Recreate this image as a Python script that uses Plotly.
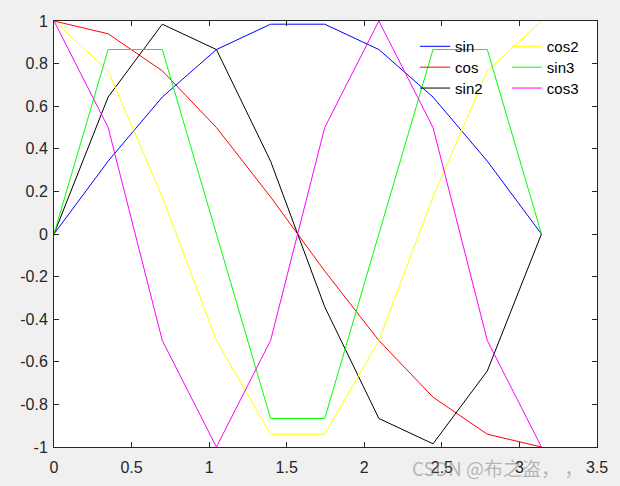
import plotly.graph_objects as go

# sample points (0 .. pi in 10 steps)
x = [0, 0.349, 0.698, 1.047, 1.396, 1.745, 2.094, 2.443, 2.793, 3.142]

sin_y = [0, 0.342, 0.643, 0.866, 0.985, 0.985, 0.866, 0.643, 0.342, 0]
cos_y = [1, 0.940, 0.766, 0.5, 0.174, -0.174, -0.5, -0.766, -0.940, -1]
sin2_y = [0, 0.643, 0.985, 0.866, 0.342, -0.342, -0.866, -0.985, -0.643, 0]
cos2_y = [1, 0.766, 0.174, -0.5, -0.940, -0.940, -0.5, 0.174, 0.766, 1]
sin3_y = [0, 0.866, 0.866, 0, -0.866, -0.866, 0, 0.866, 0.866, 0]
cos3_y = [1, 0.5, -0.5, -1, -0.5, 0.5, 1, 0.5, -0.5, -1]

x_ticks = [0, 0.5, 1, 1.5, 2, 2.5, 3, 3.5]
y_ticks = [-1, -0.8, -0.6, -0.4, -0.2, 0, 0.2, 0.4, 0.6, 0.8, 1]

series = [
    ('sin', sin_y, '#0000ff'),
    ('cos', cos_y, '#ff0000'),
    ('sin2', sin2_y, '#000000'),
    ('cos2', cos2_y, '#ffff00'),
    ('sin3', sin3_y, '#00ff00'),
    ('cos3', cos3_y, '#ff00ff'),
]

fig = go.Figure()
legends = {}
for i, (name, y, color) in enumerate(series):
    key = 'legend' if i == 0 else f'legend{i + 1}'
    fig.add_trace(go.Scatter(
        x=x, y=y, name=name, mode='lines',
        line=dict(color=color, width=1),
        legend=key,
    ))
    # two columns of three entries, like the matlab legend
    col, row = divmod(i, 3)
    legends[key] = dict(
        x=0.665 + col * 0.169, y=0.940 - row * 0.049,
        xanchor='left', yanchor='middle',
        bgcolor='rgba(0,0,0,0)', font=dict(size=15, color='#000000'),
    )

axis_color = '#262626'
font = 'Liberation Sans, Arial, sans-serif'

fig.update_layout(
    width=620, height=486,
    margin=dict(l=54, r=23, t=21, b=39),
    paper_bgcolor='#f0f0f0',
    plot_bgcolor='#ffffff',
    font=dict(family=font, size=15, color=axis_color),
    showlegend=True,
    **legends,
)

fig.update_xaxes(
    range=[0, 3.5], tickvals=x_ticks, ticktext=[f'{v:g}' for v in x_ticks],
    showgrid=False, zeroline=False, automargin=False,
    showline=True, linecolor=axis_color, linewidth=1, mirror='allticks',
    ticks='inside', ticklen=5, tickcolor=axis_color,
    tickfont=dict(size=16), ticklabelstandoff=6,
)
fig.update_yaxes(
    range=[-1, 1], tickvals=y_ticks, ticktext=[f'{v:g}' for v in y_ticks],
    showgrid=False, zeroline=False, automargin=False,
    showline=True, linecolor=axis_color, linewidth=1, mirror='allticks',
    ticks='inside', ticklen=5, tickcolor=axis_color,
    tickfont=dict(size=16), ticklabelstandoff=2,
)

# watermark
fig.add_annotation(
    text='CSDN @布之盗， ，', xref='paper', yref='paper',
    x=0.978, y=-0.047, xanchor='right', yanchor='middle', showarrow=False,
    font=dict(family='Noto Sans CJK SC', size=19, color='rgba(120,120,120,0.5)'),
)

fig.write_html(
    'out.html',
    config={'displayModeBar': False},
    post_script="document.body.style.margin='0';"
                "document.body.style.background='#f0f0f0';",
)
